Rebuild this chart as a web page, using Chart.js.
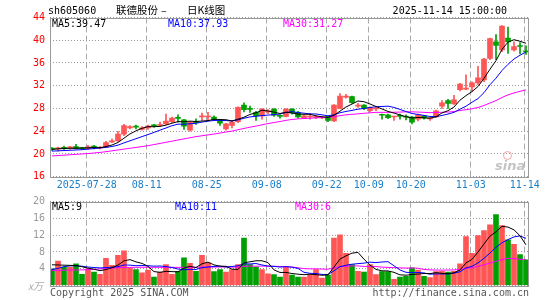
<!DOCTYPE html>
<html>
<head>
<meta charset="utf-8">
<script src="https://cdn.jsdelivr.net/npm/chart.js@4.4.1/dist/chart.umd.min.js"></script>
<style>
  body { margin: 0; background: #fff; }
  #wrap { position: relative; width: 545px; height: 300px; overflow: hidden; font-family: 'DejaVu Sans Mono', monospace; font-size: 10px; }
  canvas { position: absolute; left: 0; }
  .t { position: absolute; white-space: nowrap; line-height: 12px; }
  .cjk { font-family: 'Noto Sans CJK SC', sans-serif; font-size: 10.5px; }
</style>
</head>
<body>
<div id="wrap">
  <canvas id="price" width="545" height="195" style="top:0"></canvas>
  <canvas id="volume" width="545" height="110" style="top:190px"></canvas>

  <div class="t" style="left:48px;top:5px">sh605060</div>
  <div class="t cjk" style="left:116px;top:4px">联德股份</div>
  <div class="t cjk" style="left:161px;top:4px">–</div>
  <div class="t cjk" style="left:187px;top:4px">日K线图</div>
  <div class="t" style="right:38px;top:5px">2025-11-14 15:00:00</div>

  <div class="t" style="left:52px;top:18px;color:#000">MA5:39.47</div>
  <div class="t" style="left:168px;top:18px;color:#0000ff">MA10:37.93</div>
  <div class="t" style="left:283px;top:18px;color:#ff00ff">MA30:31.27</div>

  <div class="t" style="left:52px;top:201px;color:#000">MA5:9</div>
  <div class="t" style="left:175px;top:201px;color:#0000ff">MA10:11</div>
  <div class="t" style="left:295px;top:201px;color:#ff00ff">MA30:6</div>

  <div style="position:absolute;left:503px;top:151px;width:7px;height:7px;border:1.5px solid #f3a6a6;border-radius:50%"></div>
  <div class="t" style="left:495px;top:158px;font:italic bold 13px 'DejaVu Sans';color:#c4c4c4">sina</div>

  <div class="t cjk" style="right:502px;top:280px;color:#aaa;font-size:10px;font-style:italic">x万</div>
  <div class="t" style="left:50px;top:287px;color:#555">Copyright 2025 SINA.COM</div>
  <div class="t" style="right:16px;top:287px;color:#555">http://finance.sina.com.cn</div>
</div>

<script>
const dates = ['2025-07-28', '08-11', '08-25', '09-08', '09-22', '10-09', '10-20', '11-03', '11-14']
const dateIdx = [6, 16, 26, 36, 46, 53, 60, 70, 79]

const opens = [20.95, 20.9, 21.05, 21.0, 21.3, 21.0, 20.95, 21.25, 21.05, 21.2,
  22.1, 22.3, 23.5, 24.6, 24.9, 24.3, 24.6, 25.0, 25.0, 25.3,
  25.7, 26.35, 26.0, 24.2, 25.6, 26.5, 26.5, 26.5, 25.9, 24.4,
  25.0, 25.7, 28.6, 28.0, 27.3, 26.7, 27.4, 27.9, 26.7, 26.6,
  27.9, 27.3, 26.35, 26.5, 26.4, 26.35, 26.6, 25.8, 28.0, 30.0,
  30.1, 28.4, 28.6, 27.6, 27.9, 26.9, 26.9, 26.5, 26.7, 26.5,
  26.5, 26.1, 26.7, 26.15, 26.5, 28.4, 29.4, 28.8, 31.3, 31.4,
  31.8, 32.5, 33.0, 36.8, 39.7, 38.3, 40.4, 38.3, 39.0, 38.05]
const highs = [21.1, 21.2, 21.4, 21.35, 21.7, 21.1, 21.5, 21.5, 21.3, 22.2,
  22.6, 24.0, 25.2, 25.0, 25.1, 24.8, 25.1, 25.2, 25.6, 27.0,
  26.5, 26.9, 26.1, 25.7, 26.2, 27.2, 27.3, 26.7, 26.1, 25.4,
  25.8, 28.3, 29.0, 28.4, 27.5, 28.0, 27.8, 28.0, 26.9, 28.0,
  28.0, 27.5, 26.9, 27.1, 26.8, 26.6, 26.7, 28.7, 30.6, 30.5,
  30.2, 28.9, 28.7, 28.3, 28.3, 27.0, 27.0, 26.6, 27.0, 26.9,
  26.6, 27.0, 26.8, 26.4, 27.7, 29.4, 29.6, 30.3, 32.4, 33.9,
  32.7, 35.4, 36.8, 40.4, 41.0, 42.6, 42.3, 39.7, 39.6, 39.0]
const lows = [20.6, 20.5, 20.8, 20.85, 20.9, 20.8, 20.85, 20.9, 20.9, 21.1,
  22.0, 22.2, 23.2, 24.4, 24.4, 24.2, 24.3, 24.7, 24.8, 25.2,
  25.5, 25.6, 24.3, 24.0, 25.2, 25.9, 25.8, 26.0, 25.0, 24.2,
  24.6, 25.5, 27.4, 27.3, 25.9, 26.1, 27.1, 26.6, 26.3, 26.5,
  27.0, 26.3, 26.2, 26.1, 26.2, 26.2, 25.7, 25.7, 27.9, 29.8,
  28.9, 28.2, 27.8, 27.4, 27.6, 26.1, 26.2, 25.9, 26.1, 26.0,
  25.3, 25.8, 26.1, 25.9, 26.4, 28.0, 28.0, 28.7, 31.1, 31.3,
  31.0, 32.2, 32.7, 36.6, 36.6, 38.0, 37.7, 38.1, 37.6, 37.5]
const closes = [20.85, 21.05, 21.0, 21.25, 20.95, 20.95, 21.25, 21.2, 21.1, 22.0,
  22.3, 23.5, 25.0, 24.8, 24.7, 24.6, 24.9, 24.95, 25.1, 25.8,
  26.3, 26.25, 24.9, 25.6, 25.5, 26.7, 26.6, 26.1, 25.4, 25.3,
  25.6, 28.2, 27.8, 27.85, 26.7, 27.9, 27.55, 26.8, 26.6, 27.9,
  27.2, 26.5, 26.7, 26.6, 26.5, 26.4, 25.9, 28.6, 30.2, 30.2,
  29.0, 28.55, 28.0, 28.2, 28.0, 26.8, 26.4, 26.55, 26.6, 26.45,
  25.6, 26.9, 26.3, 26.25, 27.6, 29.0, 28.9, 29.5, 32.3, 31.6,
  32.5, 33.4, 36.7, 40.3, 39.1, 42.5, 39.7, 38.9, 38.9, 37.95]

const ma5 = [20.8, 20.9, 20.95, 21.0, 21.02, 21.04, 21.08, 21.12, 21.09, 21.3,
  21.57, 22.02, 22.78, 23.52, 24.06, 24.52, 24.8, 24.79, 24.85, 25.07,
  25.41, 25.68, 25.67, 25.77, 25.71, 25.79, 25.86, 26.1, 26.06, 26.02,
  25.8, 26.12, 26.46, 26.95, 27.23, 27.69, 27.56, 27.36, 27.11, 27.35,
  27.21, 27.0, 26.98, 26.98, 26.7, 26.54, 26.42, 26.8, 27.52, 28.26,
  28.78, 29.31, 29.19, 28.79, 28.35, 27.91, 27.48, 27.19, 26.87, 26.56,
  26.32, 26.42, 26.37, 26.3, 26.53, 27.21, 27.61, 28.25, 29.46, 30.26,
  30.96, 31.86, 33.3, 34.9, 36.4, 38.4, 39.66, 40.1, 39.82, 39.47]
const ma10 = [20.5, 20.55, 20.6, 20.65, 20.7, 20.75, 20.85, 20.95, 21.05, 21.16,
  21.31, 21.55, 21.95, 22.31, 22.68, 23.05, 23.41, 23.79, 24.19, 24.57,
  24.97, 25.24, 25.23, 25.31, 25.39, 25.6, 25.77, 25.89, 25.92, 25.87,
  25.8, 25.99, 26.28, 26.51, 26.63, 26.75, 26.84, 26.91, 27.03, 27.29,
  27.45, 27.28, 27.17, 27.05, 27.03, 26.88, 26.71, 26.89, 27.25, 27.48,
  27.66, 27.87, 28.0, 28.16, 28.31, 28.35, 28.4, 28.19, 27.83, 27.46,
  27.12, 26.95, 26.78, 26.59, 26.55, 26.77, 27.02, 27.31, 27.88, 28.4,
  29.09, 29.74, 30.78, 32.18, 33.33, 34.68, 35.76, 36.7, 37.36, 37.93]
const ma30 = [19.65, 19.72, 19.79, 19.86, 19.93, 20.0, 20.07, 20.17, 20.27, 20.4,
  20.55, 20.7, 20.85, 21.0, 21.15, 21.3, 21.45, 21.65, 21.85, 22.05,
  22.25, 22.45, 22.65, 22.85, 23.05, 23.2, 23.35, 23.5, 23.68, 23.86,
  24.02, 24.26, 24.49, 24.71, 24.9, 25.13, 25.34, 25.53, 25.71, 25.91,
  26.07, 26.17, 26.23, 26.29, 26.35, 26.41, 26.44, 26.56, 26.73, 26.88,
  26.97, 27.05, 27.15, 27.24, 27.32, 27.32, 27.32, 27.33, 27.37, 27.41,
  27.41, 27.37, 27.32, 27.26, 27.29, 27.33, 27.37, 27.46, 27.65, 27.78,
  27.95, 28.18, 28.52, 28.97, 29.39, 29.93, 30.39, 30.73, 31.02, 31.27]

// volume, x万
const vols = [4.0, 5.8, 4.4, 4.4, 5.2, 2.65, 4.0, 3.2, 2.65, 6.5,
  4.8, 7.2, 8.3, 4.1, 3.8, 3.0, 3.7, 2.0, 3.2, 5.0,
  2.65, 3.4, 6.6, 5.3, 3.4, 7.2, 5.4, 3.3, 3.8, 3.2,
  3.8, 5.0, 11.3, 5.0, 4.4, 3.8, 2.8, 2.6, 2.0, 4.4,
  2.5, 2.0, 2.0, 2.6, 3.8, 1.8, 2.5, 11.3, 12.1, 7.7,
  5.0, 3.4, 3.2, 5.0, 2.6, 3.3, 3.3, 1.5, 2.0, 2.2,
  4.2, 3.7, 2.2, 1.9, 3.3, 3.4, 3.2, 3.4, 5.2, 11.7,
  7.7, 11.9, 13.1, 14.5, 16.9, 14.3, 10.9, 9.8, 7.4, 6.1]
const volMa5 = [4.95, 4.9, 4.85, 4.8, 4.76, 4.49, 4.13, 3.89, 3.54, 3.8,
  4.23, 4.87, 5.89, 6.18, 5.64, 5.28, 4.58, 3.32, 3.14, 3.38,
  3.31, 3.25, 4.17, 4.59, 4.27, 5.18, 5.58, 4.92, 4.62, 4.58,
  3.9, 3.82, 5.42, 5.66, 5.9, 5.9, 5.46, 3.72, 3.12, 3.12,
  2.86, 2.7, 2.58, 2.7, 2.58, 2.44, 2.54, 4.4, 6.3, 7.08,
  7.72, 7.9, 6.28, 4.86, 3.84, 3.5, 3.48, 3.14, 2.54, 2.46,
  2.64, 2.72, 2.86, 2.84, 3.06, 2.9, 2.8, 3.04, 3.7, 5.38,
  6.24, 7.98, 9.92, 11.78, 12.82, 14.14, 13.94, 13.28, 11.86, 9.7]
const volMa10 = [3.8, 4.1, 4.5, 4.7, 4.7, 4.6, 4.4, 4.3, 4.2, 4.28,
  4.36, 4.5, 4.89, 4.86, 4.72, 4.76, 4.73, 4.61, 4.66, 4.51,
  4.3, 3.92, 3.75, 3.87, 3.83, 4.25, 4.42, 4.55, 4.61, 4.43,
  4.54, 4.7, 5.17, 5.14, 5.24, 4.9, 4.64, 4.57, 4.39, 4.51,
  4.38, 4.08, 3.15, 2.91, 2.85, 2.65, 2.62, 3.49, 4.5, 4.83,
  5.08, 5.22, 5.34, 5.58, 5.46, 5.61, 5.69, 4.71, 3.7, 3.15,
  3.07, 3.1, 3.0, 2.69, 2.76, 2.77, 2.76, 2.95, 3.27, 4.22,
  4.57, 5.39, 6.48, 7.74, 9.1, 10.19, 10.96, 11.6, 11.82, 11.26]
const volMa30 = [3.6, 3.62, 3.65, 3.68, 3.7, 3.73, 3.77, 3.85, 3.95, 4.05,
  4.15, 4.25, 4.3, 4.32, 4.34, 4.35, 4.35, 4.34, 4.33, 4.34,
  4.33, 4.32, 4.34, 4.36, 4.36, 4.38, 4.4, 4.4, 4.41, 4.41,
  4.4, 4.37, 4.6, 4.62, 4.6, 4.63, 4.59, 4.57, 4.55, 4.48,
  4.41, 4.23, 4.02, 3.97, 3.97, 3.93, 3.89, 4.2, 4.5, 4.59,
  4.67, 4.67, 4.55, 4.54, 4.52, 4.39, 4.32, 4.26, 4.2, 4.16,
  4.18, 4.13, 3.83, 3.73, 3.69, 3.68, 3.69, 3.72, 3.82, 4.07,
  4.24, 4.57, 4.94, 5.34, 5.77, 6.19, 6.47, 6.42, 6.26, 6.21]

const UP = '#ff5555'
const DOWN = '#00a000'
const FONT = { family: "'DejaVu Sans Mono', monospace", size: 10 }

const idx = closes.map((_, i) => i)
const colors = idx.map((i) => (closes[i] >= opens[i] ? UP : DOWN))
const xy = (arr) => arr.map((v, i) => ({ x: i, y: v }))

// frame around the plot area
const framePlugin = {
  id: 'frame',
  afterDraw(chart) {
    const { ctx, chartArea: a } = chart
    ctx.save()
    ctx.strokeStyle = '#999'
    ctx.lineWidth = 1
    ctx.strokeRect(Math.round(a.left) + 0.5, Math.round(a.top) + 0.5, Math.round(a.right - a.left) - 1, Math.round(a.bottom - a.top))
    ctx.restore()
  }
}

const xScale = (showLabels) => ({
  type: 'linear',
  min: -0.33,
  max: 79.5,
  offset: false,
  afterBuildTicks: (scale) => { scale.ticks = dateIdx.map((v) => ({ value: v - 0.2 })) },
  afterFit: (scale) => { scale.height = showLabels ? 18.3 : 0 },
  grid: { color: '#aaa', drawTicks: false, offset: false },
  border: { display: false, dash: [6, 3] },
  ticks: {
    display: showLabels,
    autoSkip: false,
    maxRotation: 0,
    padding: 3,
    color: '#1a7fc9',
    font: FONT,
    callback: (v, i) => dates[i]
  }
})

const maLine = (data, color) => ({
  type: 'line',
  data: xy(data),
  borderColor: color,
  borderWidth: 1,
  pointRadius: 0,
  tension: 0,
  order: 1
})

new Chart(document.getElementById('price'), {
  type: 'bar',
  data: {
    datasets: [
      maLine(ma5, '#000'),
      maLine(ma10, '#0000ff'),
      maLine(ma30, '#ff00ff'),
      { type: 'bar', data: idx.map((i) => ({ x: i, y: [lows[i], highs[i]] })), backgroundColor: colors, barThickness: 1, grouped: false, order: 3 },
      { type: 'bar', data: idx.map((i) => ({ x: i, y: [opens[i], closes[i]] })), backgroundColor: colors, barThickness: 5, minBarLength: 1, grouped: false, order: 2 }
    ]
  },
  options: {
    responsive: false,
    animation: false,
    events: [],
    layout: { padding: { left: 0, top: 17.5, right: 16, bottom: 0 } },
    plugins: { legend: { display: false }, tooltip: { enabled: false } },
    scales: {
      x: xScale(true),
      y: {
        min: 16,
        max: 44,
        afterFit: (scale) => { scale.width = 50 },
        grid: { color: '#999', drawTicks: false },
        border: { display: false, dash: [1, 2] },
        ticks: { stepSize: 4, padding: 5, color: '#f00', font: FONT }
      }
    }
  },
  plugins: [framePlugin]
})

new Chart(document.getElementById('volume'), {
  type: 'bar',
  data: {
    datasets: [
      maLine(volMa5, '#000'),
      maLine(volMa10, '#0000ff'),
      maLine(volMa30, '#ff00ff'),
      { type: 'bar', data: xy(vols), backgroundColor: colors, barThickness: 5, grouped: false, order: 2 }
    ]
  },
  options: {
    responsive: false,
    animation: false,
    events: [],
    layout: { padding: { left: 0, top: 11.7, right: 16, bottom: 14.5 } },
    plugins: { legend: { display: false }, tooltip: { enabled: false } },
    scales: {
      x: xScale(false),
      y: {
        min: 0,
        max: 20,
        afterFit: (scale) => { scale.width = 50 },
        grid: { color: '#999', drawTicks: false },
        border: { display: false, dash: [1, 2] },
        ticks: { stepSize: 4, padding: 5, color: '#999', font: FONT, callback: (v) => (v === 0 ? '' : v) }
      }
    }
  },
  plugins: [framePlugin]
})
</script>
</body>
</html>
